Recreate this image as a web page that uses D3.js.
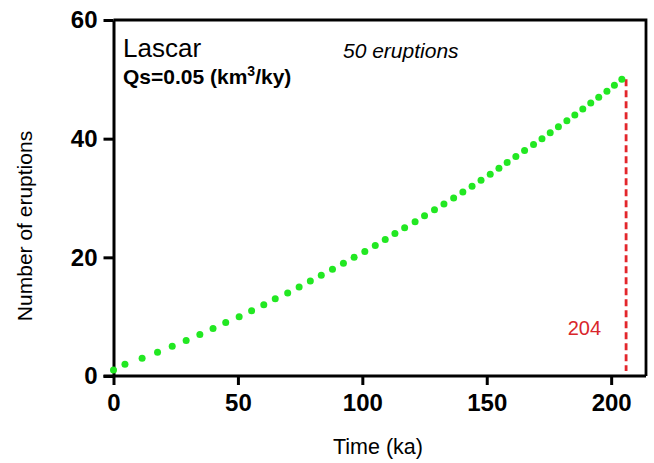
<!DOCTYPE html>
<html>
<head>
<meta charset="utf-8">
<script src="https://cdn.jsdelivr.net/npm/d3@7"></script>
<style>
  html, body { margin: 0; padding: 0; background: #fff; }
  svg { display: block; font-family: "Liberation Sans", Arial, sans-serif; }
</style>
</head>
<body>
<svg id="chart" width="654" height="463"></svg>
<script>
// Eruption number (cumulative count) and time (ka)
const eruptionNumbers = d3.range(1, 51);
const eruptionTimes = [
  0.0, 4.6, 11.5, 17.7, 23.6, 29.2, 34.7, 40.0, 45.1, 50.5,
  55.5, 60.4, 65.0, 70.0, 74.6, 79.1, 83.5, 88.0, 92.4, 96.7,
  101.0, 105.2, 109.2, 113.1, 117.0, 121.2, 125.0, 129.0, 132.8, 136.7,
  140.4, 144.1, 147.7, 151.4, 154.9, 158.2, 161.7, 165.2, 168.8, 172.2,
  175.5, 178.8, 182.2, 185.4, 188.6, 191.8, 195.0, 198.3, 201.3, 204.3
];
const xTicks = [0, 50, 100, 150, 200];
const yTicks = [0, 20, 40, 60];
const xDomain = [0, 214];
const yDomain = [0, 60];
const markerTime = 206;      // red dashed marker position
const markerTop = 50;
const markerLabel = "204";
const volcano = "Lascar";
const countLabel = "50 eruptions";

(function () {
const svg = d3.select("#chart");
const mL = 113.5, mR = 646, mT = 20, mB = 376;

const x = d3.scaleLinear().domain(xDomain).range([mL, mR]);
const y = d3.scaleLinear().domain(yDomain).range([mB, mT]);

// frame (top and right)
svg.append("path")
  .attr("d", `M${mL},${mT}H${mR}V${mB}`)
  .attr("fill", "none").attr("stroke", "#000").attr("stroke-width", 2.8);

// y axis
const yAxis = svg.append("g").attr("transform", `translate(${mL},0)`)
  .call(d3.axisLeft(y).tickValues(yTicks).tickSize(10).tickPadding(6).tickSizeOuter(0));
yAxis.select(".domain").attr("stroke-width", 3);
yAxis.selectAll(".tick line").attr("stroke-width", 3);
yAxis.selectAll(".tick text").attr("font-size", 24).attr("font-weight", "bold")
  .attr("fill", "#000").attr("font-family", "Liberation Sans, Arial, sans-serif");

// x axis
const xAxis = svg.append("g").attr("transform", `translate(0,${mB})`)
  .call(d3.axisBottom(x).tickValues(xTicks).tickSize(9).tickPadding(9).tickSizeOuter(0));
xAxis.select(".domain").attr("stroke-width", 3).attr("d", `M${mL - 10},0H${mR}`);
xAxis.selectAll(".tick line").attr("stroke-width", 3);
xAxis.selectAll(".tick text").attr("font-size", 24).attr("font-weight", "bold")
  .attr("fill", "#000").attr("font-family", "Liberation Sans, Arial, sans-serif");

// red dashed marker line
svg.append("line")
  .attr("x1", x(markerTime)).attr("x2", x(markerTime))
  .attr("y1", y(markerTop)).attr("y2", y(0) - 5)
  .attr("stroke", "#e3262b").attr("stroke-width", 2.8)
  .attr("stroke-dasharray", "7,4");

svg.append("text")
  .attr("x", x(markerTime) - 25).attr("y", 335)
  .attr("text-anchor", "end").attr("font-size", 20).attr("fill", "#d9262b")
  .text(markerLabel);

// points
const pts = eruptionTimes.map((t, i) => ({ t, n: eruptionNumbers[i] }));
svg.append("g").selectAll("circle").data(pts).join("circle")
  .attr("cx", d => x(d.t)).attr("cy", d => y(d.n))
  .attr("r", 3.5).attr("fill", "#22e822");

// annotations
svg.append("text").attr("x", 123).attr("y", 57)
  .attr("font-size", 26).attr("fill", "#000").text(volcano);

const qs = svg.append("text").attr("x", 123).attr("y", 83.5)
  .attr("font-size", 21).attr("font-weight", "bold").attr("fill", "#000");
qs.append("tspan").text("Qs=0.05 (km");
qs.append("tspan").attr("font-size", 14).attr("dy", -8).text("3");
qs.append("tspan").attr("dy", 8).text("/ky)");

svg.append("text").attr("x", 343).attr("y", 58)
  .attr("font-size", 21).attr("font-style", "italic").attr("fill", "#000")
  .text(countLabel);

// axis titles
svg.append("text").attr("x", 378).attr("y", 454)
  .attr("text-anchor", "middle").attr("font-size", 21.5).attr("fill", "#000")
  .text("Time (ka)");

svg.append("text")
  .attr("transform", `translate(32,226) rotate(-90)`)
  .attr("text-anchor", "middle").attr("font-size", 21).attr("fill", "#000")
  .text("Number of eruptions");
})();
</script>
</body>
</html>
